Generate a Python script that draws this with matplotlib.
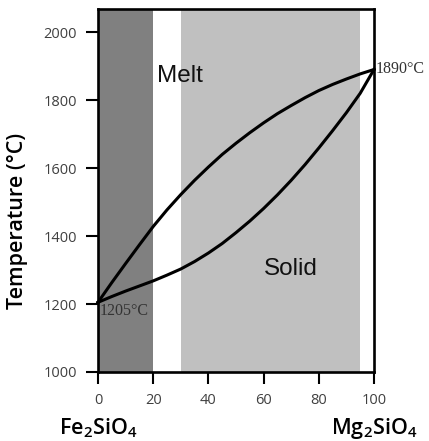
import matplotlib
matplotlib.use('Agg')
import matplotlib.pyplot as plt

# Composicion (% Mg2SiO4) y temperaturas de liquidus / solidus [°C]
comp = [0, 5, 10, 15, 20, 25, 30, 35, 40, 45, 50,
        55, 60, 65, 70, 75, 80, 85, 90, 95, 100]
liquidus = [1205, 1263, 1319, 1374, 1428, 1477, 1522, 1564, 1603, 1640, 1673,
            1704, 1733, 1760, 1784, 1807, 1828, 1846, 1862, 1877, 1890]
solidus = [1205, 1222, 1238, 1253, 1268, 1285, 1303, 1325, 1350, 1378, 1410,
           1444, 1481, 1521, 1564, 1610, 1659, 1710, 1763, 1820, 1890]

# Bandas de fondo: (inicio, fin, color)
bandas_ini = [0, 30]
bandas_fin = [20, 95]
bandas_col = ['#808080', '#c0c0c0']

xticks = [0, 20, 40, 60, 80, 100]
yticks = [1000, 1200, 1400, 1600, 1800, 2000]

plt.rcParams['font.family'] = ['Open Sans', 'DejaVu Sans']
plt.rcParams['mathtext.default'] = 'regular'

fig = plt.figure(figsize=(4.29, 4.41), dpi=100)
ax = fig.add_axes([0.2284, 0.1565, 0.6434, 0.8231])

for x0, x1, c in zip(bandas_ini, bandas_fin, bandas_col):
    ax.axvspan(x0, x1, color=c, lw=0, zorder=0)

ax.plot(comp, liquidus, color='black', lw=2.2, solid_joinstyle='round', zorder=3, clip_on=False)
ax.plot(comp, solidus, color='black', lw=2.2, solid_joinstyle='round', zorder=3, clip_on=False)

ax.set_xlim(0, 100)
ax.set_ylim(1000, 2068)
ax.set_xticks(xticks)
ax.set_yticks(yticks)
ax.tick_params(direction='out', length=8.6, width=1.5, pad=6.5,
               labelsize=10.5, labelcolor='#404040')
for s in ax.spines.values():
    s.set_linewidth(1.9)

ax.set_ylabel('Temperature (°C)', fontsize=15.5, fontweight='semibold')
ax.yaxis.set_label_coords(-0.255, 0.416)

ax.text(21.5, 1872, 'Melt', fontsize=17.5, family='Liberation Sans', color='#111111',
        ha='left', va='center')
ax.text(70, 1303, 'Solid', fontsize=17.5, family='Liberation Sans', color='#111111',
        ha='center', va='center')

ax.text(100.6, 1890, '1890°C', fontsize=11.5, family='Liberation Serif', color='#333333',
        ha='left', va='center', clip_on=False)
ax.text(0.5, 1178, '1205°C', fontsize=11.5, family='Liberation Serif', color='#333333',
        ha='left', va='center')

ax.text(0, -0.155, r'Fe$_2$SiO$_4$', transform=ax.get_xaxis_transform(),
        fontsize=15.5, fontweight='semibold', ha='center', va='center')
ax.text(100, -0.155, r'Mg$_2$SiO$_4$', transform=ax.get_xaxis_transform(),
        fontsize=15.5, fontweight='semibold', ha='center', va='center')

fig.savefig('out.png', dpi=100)
